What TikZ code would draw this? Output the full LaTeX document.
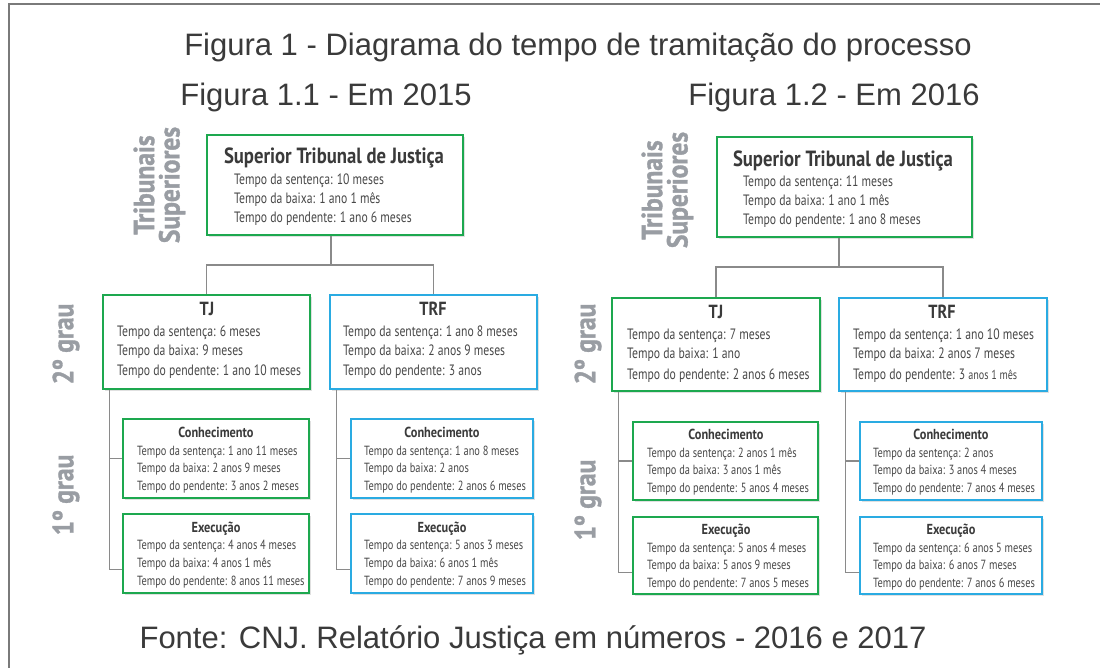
\documentclass[tikz,border=0pt]{standalone}
\usepackage{fontspec}
\usetikzlibrary{calc,shadows}
\setmainfont{Liberation Sans}
\newfontfamily\headf{Liberation Sans}
\newfontfamily\condf[FakeStretch=0.78]{PT Sans}
\newfontfamily\condbf[FakeStretch=0.85]{PT Sans}
\newfontfamily\sidef[FakeStretch=0.88,FakeBold=1.2]{PT Sans}
\definecolor{cgreen}{HTML}{1DA84F}
\definecolor{cblue}{HTML}{2AABE2}
\definecolor{ctext}{HTML}{484848}
\definecolor{ctitle}{HTML}{3A3A3A}
\definecolor{cside}{HTML}{999DA3}
\definecolor{cline}{HTML}{8A8A8A}
\definecolor{cframe}{HTML}{7A7A7A}
\newcommand{\mkbox}[6]{\node[#2, minimum width={(#5-#3)*1pt}, minimum height={(#6-#4)*1pt}] (#1) at ({(#3+#5)/2},{(#4+#6)/2}) {};}
\newcommand{\tline}[5]{\node[tl, font=#4] (#1) at (#2,#3) {#5};}
\newcommand{\ttitle}[5]{\node[tt, font=#4] (#1) at (#2,#3) {#5};}
\newcommand{\fA}{\condf\fontsize{15}{15}\selectfont}
\newcommand{\fB}{\condf\fontsize{13.3}{13.3}\selectfont}
\newcommand{\fT}{\condbf\bfseries\fontsize{22}{22}\selectfont}
\newcommand{\fM}{\condbf\bfseries\fontsize{19}{19}\selectfont}
\newcommand{\fS}{\condbf\bfseries\fontsize{14.5}{14.5}\selectfont}
\begin{document}
\begin{tikzpicture}[x=1pt,y=-1pt,
  shad/.style={drop shadow={shadow xshift=1.5pt, shadow yshift=-2pt, opacity=0.12, fill=black}},
  gbox/.style={draw=cgreen, line width=2.6pt, fill=white, inner sep=0, shad},
  bbox/.style={draw=cblue, line width=2.6pt, fill=white, inner sep=0, shad},
  tl/.style={anchor=base west, inner sep=0, text=ctext},
  tt/.style={anchor=base, inner sep=0, text=ctitle},
  conn/.style={draw=cline, line width=1.3pt},
  side/.style={rotate=90, inner sep=0, text=cside, font=\sidef\bfseries\fontsize{29}{29}\selectfont},
  head/.style={inner sep=0, anchor=base, text=ctitle, font=\headf\fontsize{31}{31}\selectfont}]
\useasboundingbox (0,0) rectangle (1100,668);
\fill[white] (0,0) rectangle (1100,668);
% frame
\coordinate (fTL) at (8.5,4.5);
\coordinate (fTR) at (1100,4.5);
\coordinate (fBL) at (8.5,668);
\draw[cframe, line width=2pt] (fTR) -- (fTL) -- (fBL);
% headings
\node[head] (title) at (578,56) {Figura 1 - Diagrama do tempo de tramitação do processo};
\node[head] (subA) at (326,106) {Figura 1.1 - Em 2015};
\node[head] (subB) at (834,106) {Figura 1.2 - Em 2016};
\node[head] (fonte) at (533,648) {Fonte: CNJ. Relatório Justiça em números - 2016 e 2017};
% side labels
\node[side] (trA1) at (144,185) {Tribunais};
\node[side] (trA2) at (172,185) {Superiores};
\node[side] (g2A) at (66,344) {2º grau};
\node[side] (g1A) at (66,495) {1º grau};
\node[side] (trB1) at (652,190) {Tribunais};
\node[side] (trB2) at (680,190) {Superiores};
\node[side] (g2B) at (588,344) {2º grau};
\node[side] (g1B) at (588,500) {1º grau};

%%%%%%%%%%%%%%%% LEFT (2015)
\mkbox{stjA}{gbox}{207}{135}{463}{235}
\mkbox{tjA}{gbox}{103}{295}{310}{389}
\mkbox{trfA}{bbox}{330}{295}{537}{389}
\mkbox{cjA}{gbox}{123}{419}{309}{498}
\mkbox{ejA}{gbox}{123}{514}{309}{593}
\mkbox{ctA}{bbox}{351}{419}{533}{498}
\mkbox{etA}{bbox}{351}{514}{533}{593}
% connectors
\coordinate (jA) at (331,265);
\draw[conn] (stjA.south -| jA) -- (jA);
\draw[conn] (tjA.north) |- (jA) -| (trfA.north);
\coordinate (vjA) at ([xshift=8pt]tjA.south west);
\coordinate (vtA) at ([xshift=8pt]trfA.south west);
\draw[conn] (vjA) |- ($(ejA.west)+(0,16)$);
\draw[conn] (vjA |- cjA.west) -- (cjA.west);
\draw[conn] (vtA) |- ($(etA.west)+(0,16)$);
\draw[conn] (vtA |- ctA.west) -- (ctA.west);
% texts STJ
\ttitle{stjAt}{334}{164}{\fT}{Superior Tribunal de Justiça}
\tline{stjA1}{234}{185}{\fA}{Tempo da sentença: 10 meses}
\tline{stjA2}{234}{204}{\fA}{Tempo da baixa: 1 ano 1 mês}
\tline{stjA3}{234}{223}{\fA}{Tempo do pendente: 1 ano 6 meses}
% TJ
\ttitle{tjAt}{207}{316}{\fM}{TJ}
\tline{tjA1}{117}{336}{\fA}{Tempo da sentença: 6 meses}
\tline{tjA2}{117}{355}{\fA}{Tempo da baixa: 9 meses}
\tline{tjA3}{117}{375}{\fA}{Tempo do pendente: 1 ano 10 meses}
% TRF
\ttitle{trfAt}{433}{316}{\fM}{TRF}
\tline{trfA1}{343}{336}{\fA}{Tempo da sentença: 1 ano 8 meses}
\tline{trfA2}{343}{355}{\fA}{Tempo da baixa: 2 anos 9 meses}
\tline{trfA3}{343}{375}{\fA}{Tempo do pendente: 3 anos}
% sub TJ
\ttitle{cjAt}{216}{437}{\fS}{Conhecimento}
\tline{cjA1}{137}{455}{\fB}{Tempo da sentença: 1 ano 11 meses}
\tline{cjA2}{137}{472}{\fB}{Tempo da baixa: 2 anos 9 meses}
\tline{cjA3}{137}{490}{\fB}{Tempo do pendente: 3 anos 2 meses}
\ttitle{ejAt}{216}{532}{\fS}{Execução}
\tline{ejA1}{137}{549}{\fB}{Tempo da sentença: 4 anos 4 meses}
\tline{ejA2}{137}{567}{\fB}{Tempo da baixa: 4 anos 1 mês}
\tline{ejA3}{137}{585}{\fB}{Tempo do pendente: 8 anos 11 meses}
% sub TRF
\ttitle{ctAt}{442}{437}{\fS}{Conhecimento}
\tline{ctA1}{364}{455}{\fB}{Tempo da sentença: 1 ano 8 meses}
\tline{ctA2}{364}{472}{\fB}{Tempo da baixa: 2 anos}
\tline{ctA3}{364}{490}{\fB}{Tempo do pendente: 2 anos 6 meses}
\ttitle{etAt}{442}{532}{\fS}{Execução}
\tline{etA1}{364}{549}{\fB}{Tempo da sentença: 5 anos 3 meses}
\tline{etA2}{364}{567}{\fB}{Tempo da baixa: 6 anos 1 mês}
\tline{etA3}{364}{585}{\fB}{Tempo do pendente: 7 anos 9 meses}

%%%%%%%%%%%%%%%% RIGHT (2016)
\mkbox{stjB}{gbox}{717}{137}{972}{237}
\mkbox{tjB}{gbox}{612}{298}{820}{391}
\mkbox{trfB}{bbox}{839}{298}{1047}{391}
\mkbox{cjB}{gbox}{633}{422}{818}{500}
\mkbox{ejB}{gbox}{633}{517}{818}{594}
\mkbox{ctB}{bbox}{860}{422}{1042}{500}
\mkbox{etB}{bbox}{860}{517}{1042}{594}
\coordinate (jB) at (839,267);
\draw[conn] (stjB.south -| jB) -- (jB);
\draw[conn] (tjB.north) |- (jB) -| (trfB.north);
\coordinate (vjB) at ([xshift=8pt]tjB.south west);
\coordinate (vtB) at ([xshift=8pt]trfB.south west);
\draw[conn] (vjB) |- ($(ejB.west)+(0,17)$);
\draw[conn] (vjB |- cjB.west) -- (cjB.west);
\draw[conn] (vtB) |- ($(etB.west)+(0,17)$);
\draw[conn] (vtB |- ctB.west) -- (ctB.west);
% STJ
\ttitle{stjBt}{843}{167}{\fT}{Superior Tribunal de Justiça}
\tline{stjB1}{743}{187}{\fA}{Tempo da sentença: 11 meses}
\tline{stjB2}{743}{206}{\fA}{Tempo da baixa: 1 ano 1 mês}
\tline{stjB3}{743}{225}{\fA}{Tempo do pendente: 1 ano 8 meses}
% TJ
\ttitle{tjBt}{716}{319}{\fM}{TJ}
\tline{tjB1}{627}{339}{\fA}{Tempo da sentença: 7 meses}
\tline{tjB2}{627}{358}{\fA}{Tempo da baixa: 1 ano}
\tline{tjB3}{627}{379}{\fA}{Tempo do pendente: 2 anos 6 meses}
% TRF
\ttitle{trfBt}{942}{319}{\fM}{TRF}
\tline{trfB1}{853}{339}{\fA}{Tempo da sentença: 1 ano 10 meses}
\tline{trfB2}{853}{358}{\fA}{Tempo da baixa: 2 anos 7 meses}
\tline{trfB3}{853}{379}{\fA}{Tempo do pendente: 3 {\fontsize{13}{13}\selectfont anos 1 mês}}
% sub TJ
\ttitle{cjBt}{726}{439}{\fS}{Conhecimento}
\tline{cjB1}{647}{457}{\fB}{Tempo da sentença: 2 anos 1 mês}
\tline{cjB2}{647}{474}{\fB}{Tempo da baixa: 3 anos 1 mês}
\tline{cjB3}{647}{492}{\fB}{Tempo do pendente: 5 anos 4 meses}
\ttitle{ejBt}{726}{534}{\fS}{Execução}
\tline{ejB1}{647}{552}{\fB}{Tempo da sentença: 5 anos 4 meses}
\tline{ejB2}{647}{569}{\fB}{Tempo da baixa: 5 anos 9 meses}
\tline{ejB3}{647}{587}{\fB}{Tempo do pendente: 7 anos 5 meses}
% sub TRF
\ttitle{ctBt}{951}{439}{\fS}{Conhecimento}
\tline{ctB1}{873}{457}{\fB}{Tempo da sentença: 2 anos}
\tline{ctB2}{873}{474}{\fB}{Tempo da baixa: 3 anos 4 meses}
\tline{ctB3}{873}{492}{\fB}{Tempo do pendente: 7 anos 4 meses}
\ttitle{etBt}{951}{534}{\fS}{Execução}
\tline{etB1}{873}{552}{\fB}{Tempo da sentença: 6 anos 5 meses}
\tline{etB2}{873}{569}{\fB}{Tempo da baixa: 6 anos 7 meses}
\tline{etB3}{873}{587}{\fB}{Tempo do pendente: 7 anos 6 meses}
\end{tikzpicture}
\end{document}
